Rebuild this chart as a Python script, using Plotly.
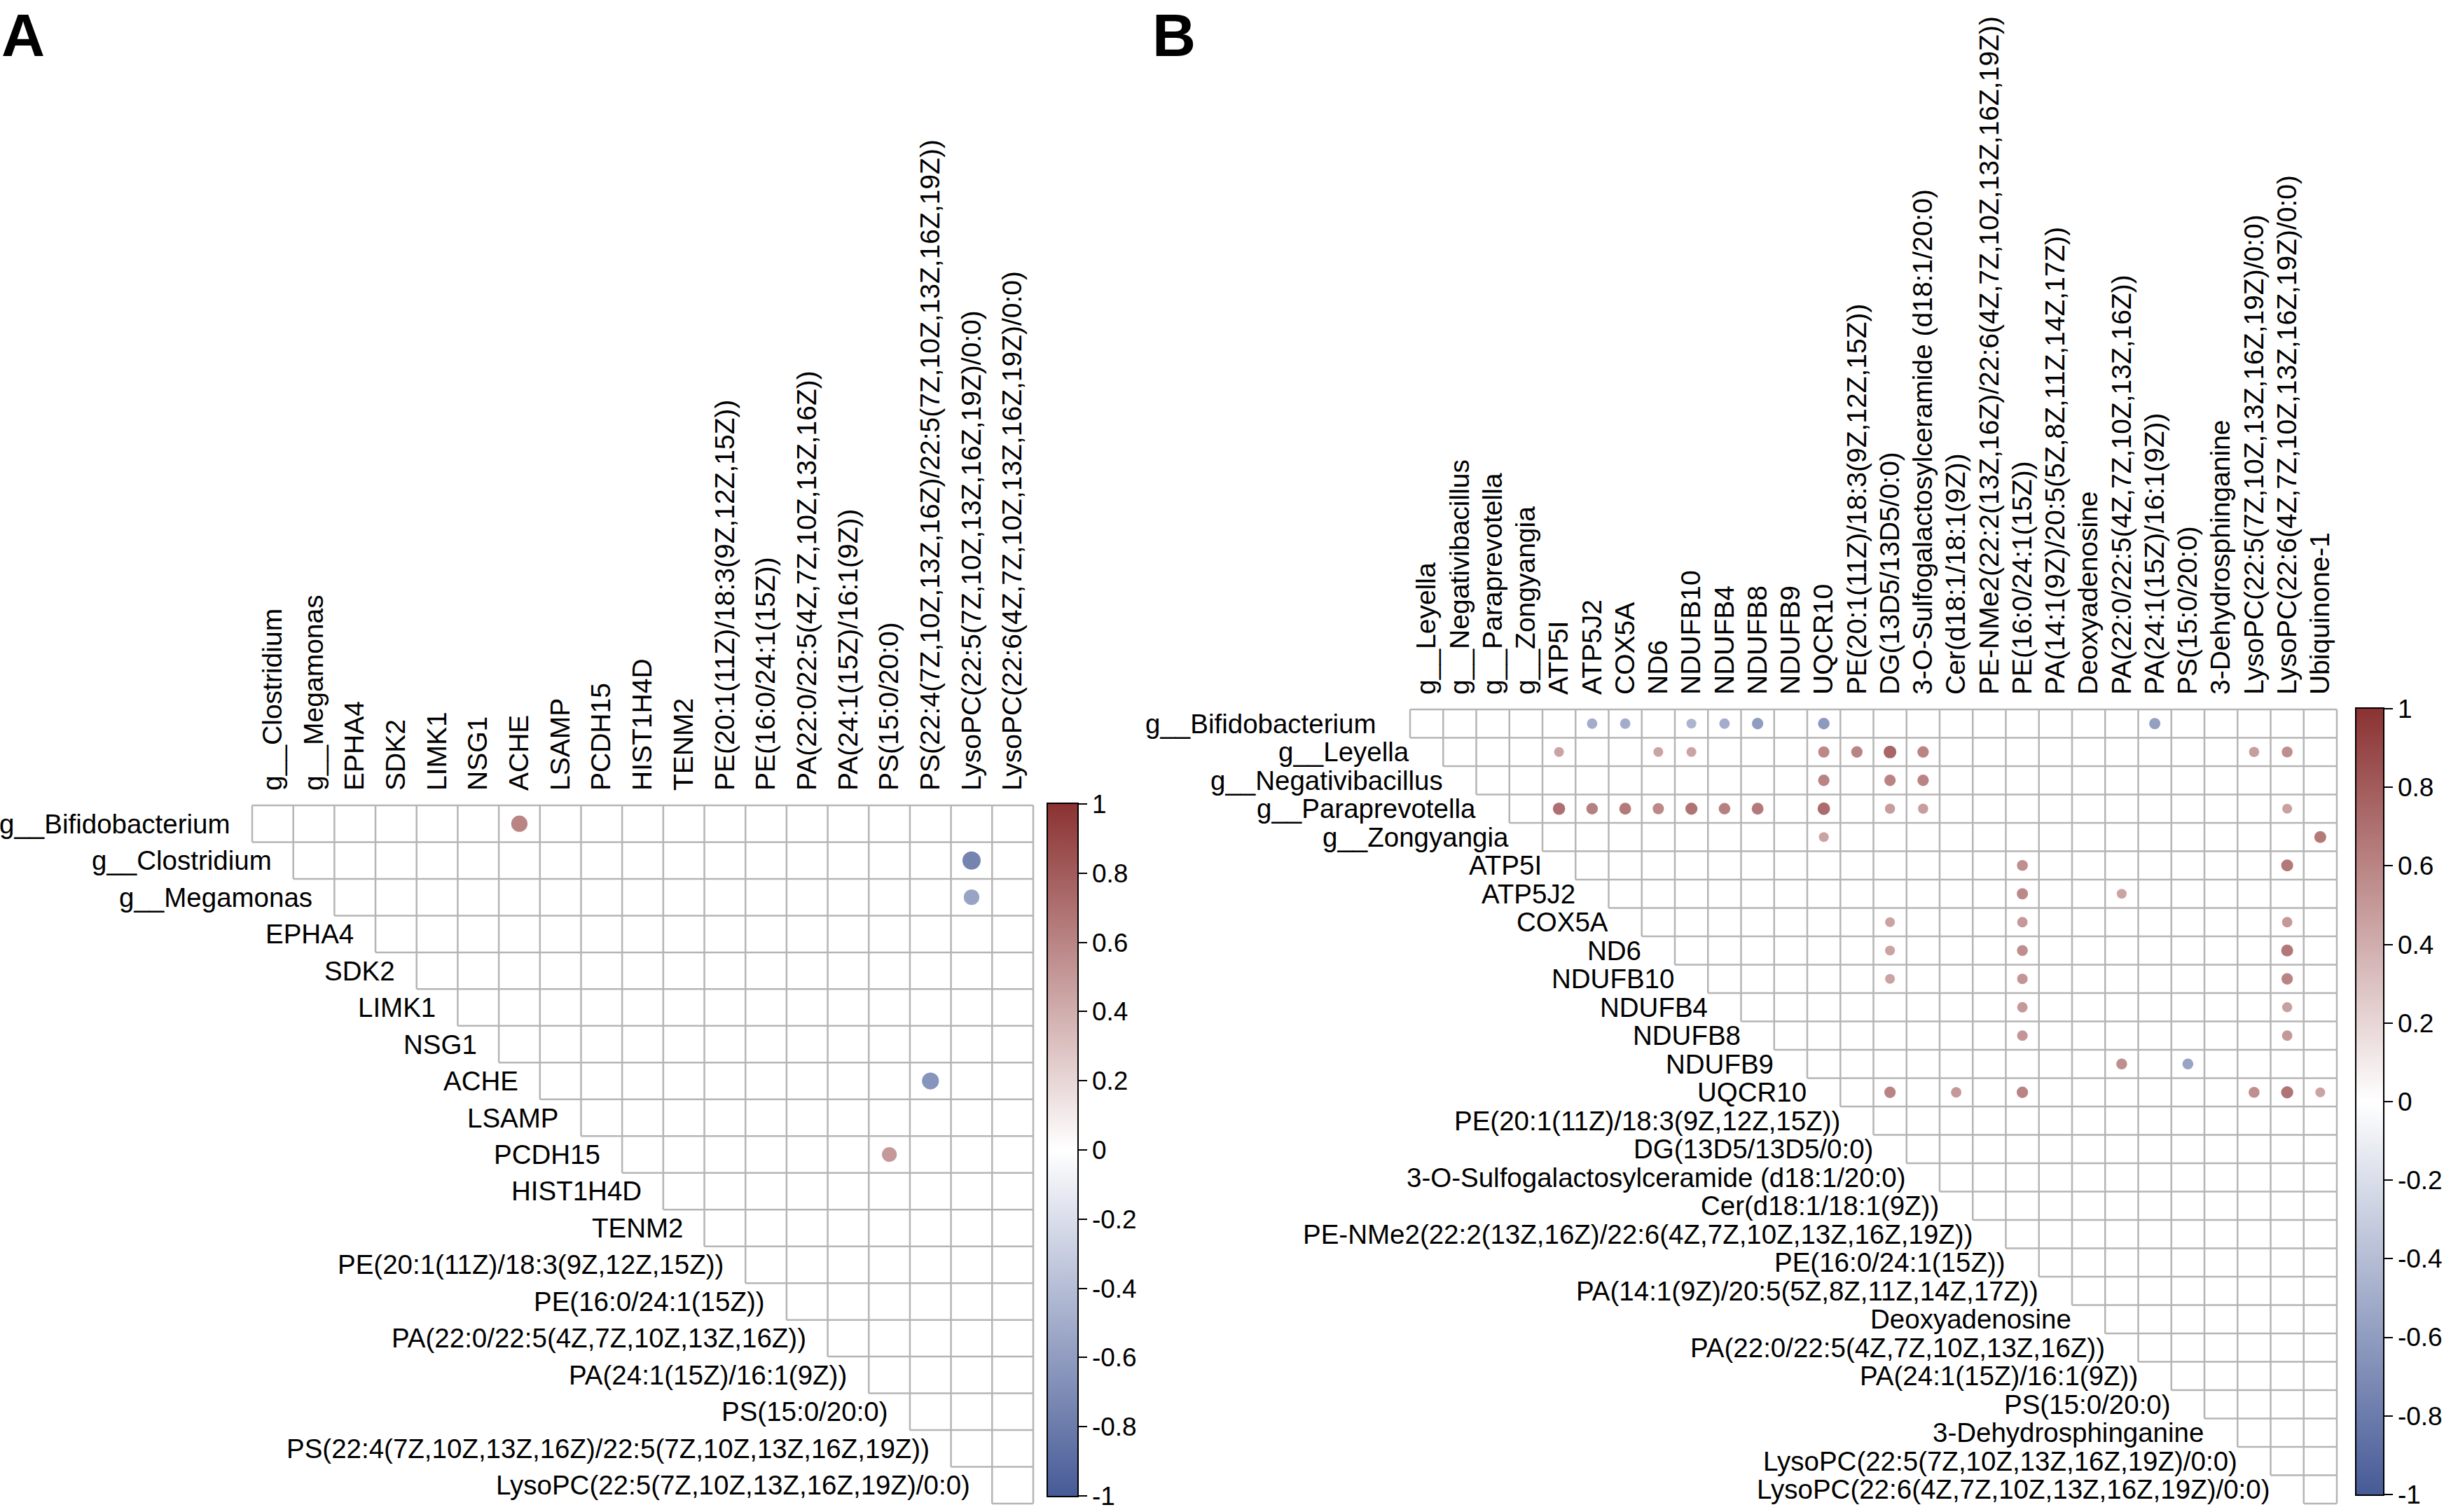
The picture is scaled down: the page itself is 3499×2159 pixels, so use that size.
import plotly.graph_objects as go

# ---------------- data ----------------
A_vars = ["g__Bifidobacterium", "g__Clostridium", "g__Megamonas", "EPHA4", "SDK2", "LIMK1", "NSG1",
          "ACHE", "LSAMP", "PCDH15", "HIST1H4D", "TENM2",
          "PE(20:1(11Z)/18:3(9Z,12Z,15Z))", "PE(16:0/24:1(15Z))",
          "PA(22:0/22:5(4Z,7Z,10Z,13Z,16Z))", "PA(24:1(15Z)/16:1(9Z))", "PS(15:0/20:0)",
          "PS(22:4(7Z,10Z,13Z,16Z)/22:5(7Z,10Z,13Z,16Z,19Z))",
          "LysoPC(22:5(7Z,10Z,13Z,16Z,19Z)/0:0)", "LysoPC(22:6(4Z,7Z,10Z,13Z,16Z,19Z)/0:0)"]

A_row = ["g__Bifidobacterium", "g__Clostridium", "g__Megamonas", "ACHE", "PCDH15"]
A_col = ["ACHE", "LysoPC(22:5(7Z,10Z,13Z,16Z,19Z)/0:0)", "LysoPC(22:5(7Z,10Z,13Z,16Z,19Z)/0:0)",
         "PS(22:4(7Z,10Z,13Z,16Z)/22:5(7Z,10Z,13Z,16Z,19Z))", "PS(15:0/20:0)"]
A_val = [0.6, -0.75, -0.55, -0.65, 0.5]

B_vars = ["g__Bifidobacterium", "g__Leyella", "g__Negativibacillus", "g__Paraprevotella", "g__Zongyangia",
          "ATP5I", "ATP5J2", "COX5A", "ND6", "NDUFB10", "NDUFB4", "NDUFB8", "NDUFB9", "UQCR10",
          "PE(20:1(11Z)/18:3(9Z,12Z,15Z))", "DG(13D5/13D5/0:0)",
          "3-O-Sulfogalactosylceramide (d18:1/20:0)", "Cer(d18:1/18:1(9Z))",
          "PE-NMe2(22:2(13Z,16Z)/22:6(4Z,7Z,10Z,13Z,16Z,19Z))", "PE(16:0/24:1(15Z))",
          "PA(14:1(9Z)/20:5(5Z,8Z,11Z,14Z,17Z))", "Deoxyadenosine",
          "PA(22:0/22:5(4Z,7Z,10Z,13Z,16Z))", "PA(24:1(15Z)/16:1(9Z))", "PS(15:0/20:0)",
          "3-Dehydrosphinganine", "LysoPC(22:5(7Z,10Z,13Z,16Z,19Z)/0:0)",
          "LysoPC(22:6(4Z,7Z,10Z,13Z,16Z,19Z)/0:0)", "Ubiquinone-1"]

DG = "DG(13D5/13D5/0:0)"
SUL = "3-O-Sulfogalactosylceramide (d18:1/20:0)"
PE16 = "PE(16:0/24:1(15Z))"
PE20 = "PE(20:1(11Z)/18:3(9Z,12Z,15Z))"
LY5 = "LysoPC(22:5(7Z,10Z,13Z,16Z,19Z)/0:0)"
LY6 = "LysoPC(22:6(4Z,7Z,10Z,13Z,16Z,19Z)/0:0)"
PA22 = "PA(22:0/22:5(4Z,7Z,10Z,13Z,16Z))"
PA24 = "PA(24:1(15Z)/16:1(9Z))"
PS15 = "PS(15:0/20:0)"
CER = "Cer(d18:1/18:1(9Z))"
UBQ = "Ubiquinone-1"

B_row = (["g__Bifidobacterium"] * 7 + ["g__Leyella"] * 9 + ["g__Negativibacillus"] * 3 +
         ["g__Paraprevotella"] * 11 + ["g__Zongyangia"] * 2 + ["ATP5I"] * 2 + ["ATP5J2"] * 2 +
         ["COX5A"] * 3 + ["ND6"] * 3 + ["NDUFB10"] * 3 + ["NDUFB4"] * 2 + ["NDUFB8"] * 2 +
         ["NDUFB9"] * 2 + ["UQCR10"] * 6)
B_col = (["ATP5J2", "COX5A", "NDUFB10", "NDUFB4", "NDUFB8", "UQCR10", PA24] +
         ["ATP5I", "ND6", "NDUFB10", "UQCR10", PE20, DG, SUL, LY5, LY6] +
         ["UQCR10", DG, SUL] +
         ["ATP5I", "ATP5J2", "COX5A", "ND6", "NDUFB10", "NDUFB4", "NDUFB8", "UQCR10", DG, SUL, LY6] +
         ["UQCR10", UBQ] +
         [PE16, LY6] +
         [PE16, PA22] +
         [DG, PE16, LY6] +
         [DG, PE16, LY6] +
         [DG, PE16, LY6] +
         [PE16, LY6] +
         [PE16, LY6] +
         [PA22, PS15] +
         [DG, CER, PE16, LY5, LY6, UBQ])
B_val = ([-0.5, -0.5, -0.45, -0.5, -0.6, -0.62, -0.58] +
         [0.45, 0.45, 0.45, 0.58, 0.6, 0.75, 0.6, 0.48, 0.55] +
         [0.6, 0.6, 0.6] +
         [0.7, 0.62, 0.65, 0.58, 0.68, 0.62, 0.65, 0.72, 0.48, 0.48, 0.46] +
         [0.45, 0.65] +
         [0.55, 0.66] +
         [0.58, 0.45] +
         [0.45, 0.5, 0.5] +
         [0.45, 0.55, 0.66] +
         [0.45, 0.52, 0.6] +
         [0.5, 0.47] +
         [0.52, 0.5] +
         [0.55, -0.55] +
         [0.6, 0.5, 0.6, 0.55, 0.68, 0.45])

COLORBAR_TICKS = [-1, -0.8, -0.6, -0.4, -0.2, 0, 0.2, 0.4, 0.6, 0.8, 1]
COLORBAR_TEXT = ["-1", "-0.8", "-0.6", "-0.4", "-0.2", "0", "0.2", "0.4", "0.6", "0.8", "1"]

# ---------------- styling ----------------
W, H = 3499, 2159
FONT = "Liberation Sans, Arial, sans-serif"
LABEL_SIZE = 38.5
GRID_COLOR = "#B5B5B5"
CSCALE = [[0.0, "rgb(70,90,150)"], [0.5, "rgb(255,255,255)"], [1.0, "rgb(139,50,50)"]]
EPS = 0.002

fig = go.Figure()

panels = [
    dict(xa="x", ya="y", vars=A_vars, rows=A_row, cols=A_col, vals=A_val,
         box=(360, 1150, 1475, 2147), shift=-29, K=30, cb=(1495, 1147, 990, 44)),
    dict(xa="x2", ya="y2", vars=B_vars, rows=B_row, cols=B_col, vals=B_val,
         box=(2013, 1013, 3336, 2147), shift=-46, K=21, cb=(3363, 1011, 1124, 40)),
]

annotations = []
PAD = 4  # px padding so edge grid lines are not clipped

for i, p in enumerate(panels):
    v = p["vars"]
    M = len(v) - 1
    left, top, right, bottom = p["box"]
    cw = (right - left) / M
    ch = (bottom - top) / M
    px_, py_ = PAD / cw, PAD / ch
    suffix = "" if i == 0 else "2"

    # grid lines for the upper triangle
    gx, gy = [], []
    for k in range(M + 1):
        gx += [max(0, k - 1), M, None]
        gy += [k, k, None]
        gx += [k, k, None]
        gy += [0, min(k + 1, M), None]
    fig.add_trace(go.Scatter(x=gx, y=gy, mode="lines", line=dict(color=GRID_COLOR, width=2.5),
                             hoverinfo="skip", showlegend=False,
                             xaxis=p["xa"], yaxis=p["ya"]))

    # circles
    xs = [v.index(c) - 1 + 0.5 for c in p["cols"]]
    ys = [v.index(r) + 0.5 for r in p["rows"]]
    sizes = [p["K"] * abs(val) ** 0.5 for val in p["vals"]]
    cbx, cby, cblen, cbth = p["cb"]
    fig.add_trace(go.Scatter(
        x=xs, y=ys, mode="markers", showlegend=False,
        xaxis=p["xa"], yaxis=p["ya"],
        marker=dict(size=sizes, color=p["vals"], colorscale=CSCALE, cmin=-1 - EPS, cmax=1 + EPS,
                    line=dict(width=0), opacity=1,
                    showscale=True,
                    colorbar=dict(x=cbx / W, xanchor="left", xpad=0,
                                  y=1 - cby / H, yanchor="top", ypad=0,
                                  len=cblen, lenmode="pixels",
                                  thickness=cbth, thicknessmode="pixels",
                                  outlinewidth=2, outlinecolor="black",
                                  tickvals=COLORBAR_TICKS, ticktext=COLORBAR_TEXT,
                                  ticks="outside", ticklen=12, tickwidth=2, tickcolor="black",
                                  ticklabeloverflow="allow",
                                  tickfont=dict(family=FONT, size=37, color="black"))),
        hovertemplate="%{marker.color}<extra></extra>"))

    # axes
    xdom = [(left - PAD) / W, (right + PAD) / W]
    ydom = [1 - (bottom + PAD) / H, 1 - (top - PAD) / H]
    fig.update_layout(**{
        "xaxis" + suffix: dict(domain=xdom, range=[-px_, M + px_], side="top",
                               anchor="y" + suffix,
                               tickvals=[c + 0.5 for c in range(M)], ticktext=v[1:],
                               tickangle=-90, ticks="", showgrid=False, zeroline=False,
                               showline=False, ticklabelstandoff=16,
                               tickfont=dict(family=FONT, size=LABEL_SIZE + 0.5, color="black")),
        "yaxis" + suffix: dict(domain=ydom, range=[M + py_, -py_], anchor="x" + suffix,
                               showticklabels=False, ticks="", showgrid=False,
                               zeroline=False, showline=False),
    })

    # row labels (staircase)
    for r in range(M):
        annotations.append(dict(x=r, y=r + 0.5, xref="x" + suffix, yref="y" + suffix,
                                text=v[r], showarrow=False, xanchor="right", yanchor="middle",
                                xshift=p["shift"],
                                font=dict(family=FONT, size=LABEL_SIZE, color="black")))

# panel letters
annotations.append(dict(x=0, y=1, xref="paper", yref="paper", text="<b>A</b>", showarrow=False,
                        xanchor="left", yanchor="top", yshift=0, xshift=0,
                        font=dict(family=FONT, size=86, color="black")))
annotations.append(dict(x=1647 / W, y=1, xref="paper", yref="paper", text="<b>B</b>", showarrow=False,
                        xanchor="left", yanchor="top", yshift=0, xshift=-4,
                        font=dict(family=FONT, size=86, color="black")))

fig.update_layout(width=W, height=H, margin=dict(l=0, r=0, t=0, b=0),
                  paper_bgcolor="white", plot_bgcolor="white",
                  annotations=annotations, showlegend=False)

fig.write_html("out.html")
